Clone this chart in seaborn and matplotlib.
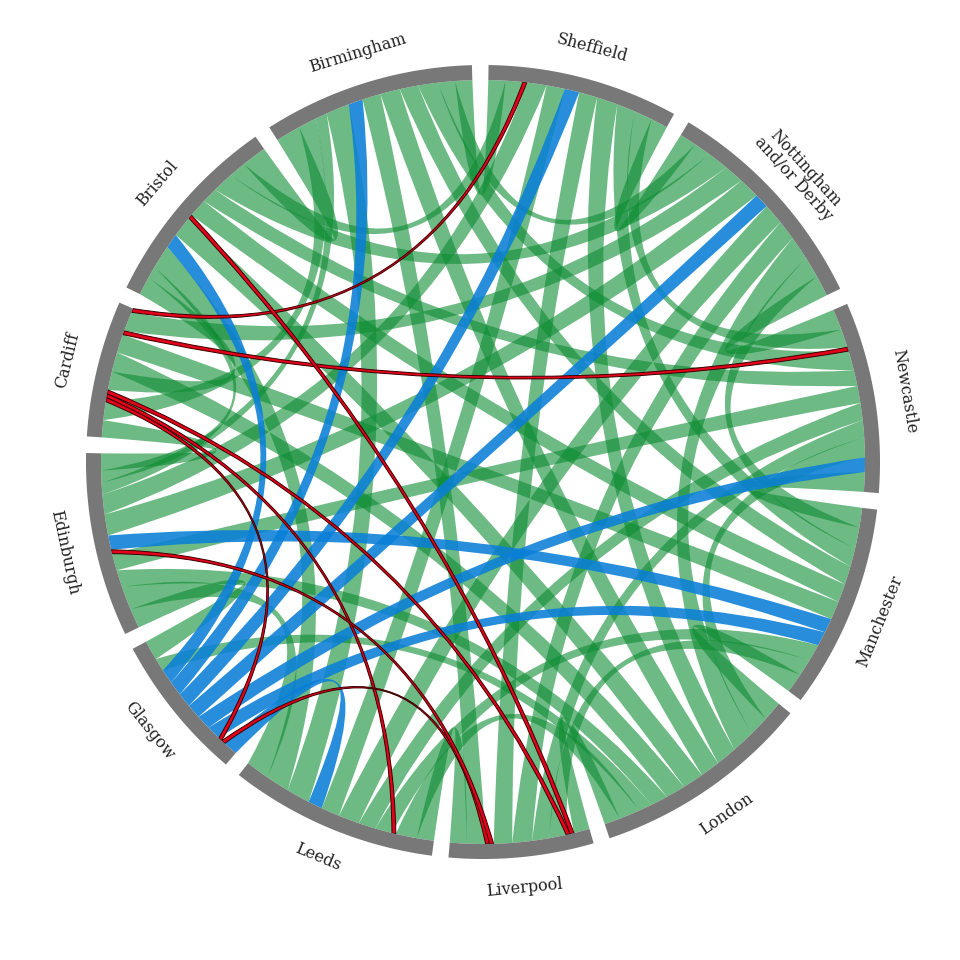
import numpy as np
import matplotlib
matplotlib.use("Agg")
import matplotlib.pyplot as plt
from matplotlib.path import Path
from matplotlib.patches import PathPatch
import seaborn as sns

# ---------------- data ----------------
cities = ["Sheffield", "Nottingham\nand/or Derby", "Newcastle", "Manchester", "London",
          "Liverpool", "Leeds", "Glasgow", "Edinburgh", "Cardiff", "Bristol", "Birmingham"]
codes_ = ["S", "N", "Nc", "M", "Lo", "Li", "Le", "G", "E", "C", "Br", "Bi"]

# green links
green_a = ["S","S","S","S","S","S","S","S","S",
           "N","N","N","N","N","N","N","N","N",
           "Nc","Nc","Nc","Nc","Nc","Nc","Nc",
           "M","M","M","M","M","M",
           "Lo","Lo","Lo","Lo","Lo","Lo","Lo",
           "Li","Li","Le","Le","Le","G","E","E","E","C","C","Br"]
green_b = ["N","Nc","M","Lo","Li","Le","E","Br","Bi",
           "Nc","M","Lo","Li","Le","E","C","Br","Bi",
           "M","Lo","Li","Le","E","Br","Bi",
           "Lo","Li","Le","C","Br","Bi",
           "Li","Le","G","E","C","Br","Bi",
           "Le","Bi","E","Br","Bi","E","C","Br","Bi","Br","Bi","Bi"]
green_v = [2.6,2.8,2.8,3.2,2.8,2.8,3.0,2.6,2.6,
           3.2,3.2,3.6,3.0,3.2,3.2,3.0,3.2,2.6,
           3.0,3.0,2.6,2.6,2.6,2.4,3.0,
           3.0,2.6,2.6,2.8,2.8,2.8,
           2.4,3.2,2.0,2.6,3.0,3.2,3.0,
           2.6,2.8,3.6,3.6,3.6,3.0,2.6,1.8,1.8,2.8,2.8,3.8]

# blue links
blue_a = ["G","G","G","G","G","G","G","E"]
blue_b = ["S","N","Nc","M","Le","Br","Bi","M"]
blue_v = [2.2,2.2,2.2,2.2,2.2,2.2,2.2,2.2]

# red links
red_a = ["C","C","C","C","C","Li","Li","Li"]
red_b = ["S","Nc","Li","Le","G","G","E","Br"]
red_v = [0.6,0.6,0.6,0.6,0.6,0.6,0.6,0.6]

# order of partners along each arc (clockwise)
arc_order = {
    "S":  ["Bi","Br","C","E","Le","G","Li","Lo","M","Nc","N"],
    "N":  ["S","Bi","Br","C","E","G","Le","Li","Lo","M","Nc"],
    "Nc": ["N","S","C","Bi","Br","E","Le","Li","Lo","G","M"],
    "M":  ["Nc","N","S","Bi","Br","C","E","G","Le","Li","Lo"],
    "Lo": ["M","Nc","N","S","Bi","Br","C","E","G","Le","Li"],
    "Li": ["Lo","Br","C","M","Nc","N","S","E","G","Bi","Le"],
    "Le": ["Li","Lo","C","M","Nc","N","S","G","Bi","Br","E"],
    "G":  ["Le","Li","C","M","Nc","N","S","Bi","Br","Lo","E"],
    "E":  ["G","Le","Lo","Nc","Li","M","N","S","Bi","Br","C"],
    "C":  ["E","Bi","G","Le","Li","Br","Lo","M","Nc","N","S"],
    "Br": ["C","E","Le","G","Lo","Li","M","Nc","N","S","Bi"],
    "Bi": ["Br","C","E","Le","G","Li","Lo","M","Nc","N","S"],
}

# ---------------- build links ----------------
links = []
for a, b, v in zip(green_a, green_b, green_v):
    links.append((a, b, v, "green"))
for a, b, v in zip(blue_a, blue_b, blue_v):
    links.append((a, b, v, "blue"))
for a, b, v in zip(red_a, red_b, red_v):
    links.append((a, b, v, "red"))
pair_idx = {}
for li, (a, b, v, k) in enumerate(links):
    pair_idx[(a, b)] = li
    pair_idx[(b, a)] = li

n = len(cities)
totals = {c: 0.0 for c in codes_}
for a, b, v, k in links:
    totals[a] += v
    totals[b] += v

PAD = 2.4
START = 0.8
scale = (360 - PAD * n) / sum(totals.values())
g_start, g_end = {}, {}
x = START
for c in codes_:
    g_start[c] = x
    x += totals[c] * scale
    g_end[c] = x
    x += PAD

ends = {}
for c in codes_:
    pos = g_start[c]
    for p in arc_order[c]:
        li = pair_idx[(c, p)]
        w = links[li][2] * scale
        ends[(li, c)] = (pos, pos + w)
        pos += w

# ---------------- drawing ----------------
sns.set_theme(style="white")
plt.rcParams['font.family'] = ['DejaVu Serif']

fig = plt.figure(figsize=(9.6, 9.6), dpi=100)
ax = fig.add_axes([0, 0, 1, 1])
ax.set_xlim(0, 960)
ax.set_ylim(960, 0)
ax.axis("off")

CX, CY = 483, 462
R_IN, R_OUT, R_LAB = 382, 397, 428
F_CTRL = 0.4

def pt(r, b):
    t = np.radians(b)
    return np.array([CX + r * np.sin(t), CY - r * np.cos(t)])

def ctrl(p, q):
    c = np.array([CX, CY], float)
    return c + F_CTRL * ((p + q) / 2 - c)

def ribbon(a0, a1, b0, b1):
    verts, cds = [], []
    for k, b in enumerate(np.linspace(a0, a1, 16)):
        verts.append(pt(R_IN, b)); cds.append(Path.MOVETO if k == 0 else Path.LINETO)
    verts += [ctrl(pt(R_IN, a1), pt(R_IN, b0)), pt(R_IN, b0)]; cds += [Path.CURVE3, Path.CURVE3]
    for b in np.linspace(b0, b1, 16)[1:]:
        verts.append(pt(R_IN, b)); cds.append(Path.LINETO)
    verts += [ctrl(pt(R_IN, b1), pt(R_IN, a0)), pt(R_IN, a0)]; cds += [Path.CURVE3, Path.CURVE3]
    return Path(np.array(verts), cds)

styles = {
    "green": dict(facecolor=(0.05, 0.55, 0.2), alpha=0.6, edgecolor="none", lw=0),
    "blue": dict(facecolor="#0a7fd8", alpha=0.88, edgecolor="none", lw=0),
    "red": dict(facecolor="#e3001b", alpha=1.0, edgecolor="#3a0000", lw=0.7),
}
for kind in ["green", "blue", "red"]:
    for li, (a, b, v, k) in enumerate(links):
        if k != kind:
            continue
        s0, s1 = ends[(li, a)]
        t0, t1 = ends[(li, b)]
        ax.add_patch(PathPatch(ribbon(s0, s1, t0, t1), **styles[kind]))

# gray group arcs
for c in codes_:
    bs = np.linspace(g_start[c], g_end[c], 60)
    outer = [pt(R_OUT, b) for b in bs]
    inner = [pt(R_IN, b) for b in bs[::-1]]
    ax.add_patch(plt.Polygon(outer + inner, closed=True, facecolor="#787878",
                             edgecolor="none"))

# labels
for i, c in enumerate(codes_):
    b = ((g_start[c] + g_end[c]) / 2) % 360
    if b < 90:
        rot = -b
    elif b < 270:
        rot = 180 - b
    else:
        rot = 360 - b
    lx, ly = pt(R_LAB, b)
    ax.text(lx, ly, cities[i], rotation=rot, rotation_mode="anchor",
            ha="center", va="center", fontsize=11.5, color="#222222",
            linespacing=1.0)

fig.savefig("out.png", dpi=100, facecolor="white")
